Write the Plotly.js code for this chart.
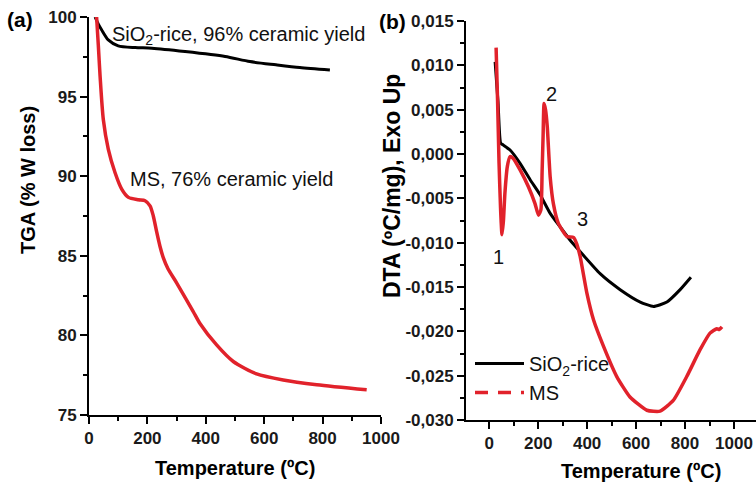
<!DOCTYPE html>
<html>
<head>
<meta charset="utf-8">
<script src="https://cdn.plot.ly/plotly-3.0.1.min.js"></script>
<style>html,body{margin:0;padding:0;background:#fff;}#chart{width:756px;height:484px;}</style>
</head>
<body>
<div id="chart"></div>
<script>
// ---- Data ----
// (a) TGA, SiO2-rice
var tgaSiT = [21, 32, 43, 66, 100, 158, 215, 329, 466, 551, 640, 722, 825];
var tgaSiV = [100, 99.55, 99.2, 98.56, 98.19, 98.08, 98.04, 97.83, 97.52, 97.2, 97.0, 96.83, 96.67];
// (a) TGA, MS
var tgaMsT = [26, 32, 38, 49, 66, 89, 112, 135, 169, 192, 209, 220, 232, 243, 255, 270, 300, 357, 380, 437, 494, 574, 665, 780, 951];
var tgaMsV = [100, 98.2, 96.27, 93.56, 91.7, 90.23, 89.19, 88.67, 88.52, 88.46, 88.14, 87.52, 86.48, 85.6, 84.85, 84.2, 83.3, 81.5, 80.75, 79.4, 78.36, 77.58, 77.2, 76.9, 76.58];
// (b) DTA, SiO2-rice
var dtaSiT = [24, 36, 47, 58, 85, 126, 167, 208, 249, 289, 330, 371, 453, 535, 617, 671, 726, 780, 824];
var dtaSiV = [0.0104, 0.0058, 0.0012, 0.0010, 0.00045, -0.00105, -0.0029, -0.0046, -0.0067, -0.0082, -0.0097, -0.0110, -0.0135, -0.0153, -0.0167, -0.0172, -0.0167, -0.0153, -0.0139];
// (b) DTA, MS
var dtaMsT = [28, 34, 40, 46, 52, 58, 64, 74, 85, 98, 126, 160, 187, 201, 211, 216, 220, 224, 230, 237, 249, 262, 282, 317, 344, 357, 371, 399, 426, 467, 521, 575, 644, 698, 752, 807, 861, 902, 930, 940, 951];
var dtaMsV = [0.0120, 0.006, -0.001, -0.006, -0.0091, -0.0075, -0.0044, -0.0014, -0.0003, -0.0005, -0.0018, -0.0037, -0.0056, -0.0069, -0.0063, -0.002, 0.002, 0.0057, 0.0050, 0.0031, -0.0026, -0.0056, -0.0078, -0.0093, -0.0094, -0.0101, -0.0115, -0.0157, -0.0187, -0.0217, -0.0251, -0.0274, -0.0289, -0.0290, -0.0278, -0.0251, -0.0221, -0.0202, -0.0197, -0.0198, -0.0195];

// Tick labels
var tempTicks = [0, 200, 400, 600, 800, 1000];
var tgaTicks = [75, 80, 85, 90, 95, 100];
var dtaTicks = [-0.030, -0.025, -0.020, -0.015, -0.010, -0.005, 0.000, 0.005, 0.010, 0.015];
var dtaTickLabels = ['-0,030', '-0,025', '-0,020', '-0,015', '-0,010', '-0,005', '0,000', '0,005', '0,010', '0,015'];

// Text
var seriesNames = ['SiO<sub>2</sub>-rice', 'MS'];
var tgaLabels = ['SiO<sub>2</sub>-rice, 96% ceramic yield', 'MS, 76% ceramic yield'];
var peakLabels = ['1', '2', '3'];
var peakT = [37, 253, 380];
var peakV = [-0.0116, 0.0068, -0.0073];

// ---- Styling ----
var W = 756, H = 484;
function px(x) { return x / W; }
function py(y) { return 1 - y / H; }
var RED = '#e1222b';
var FONT = 'Liberation Sans, Arial, sans-serif';
var tickFont = {family: FONT, size: 17, color: '#1a1a1a', weight: 700};

function axisBase() {
  return {
    showline: true, linecolor: '#000', linewidth: 2,
    ticks: 'outside', ticklen: 7, tickwidth: 2, tickcolor: '#000',
    showgrid: false, zeroline: false, tickfont: tickFont, fixedrange: true
  };
}

var xa = Object.assign(axisBase(), {
  domain: [px(89), px(381)], range: [0, 1000], anchor: 'y',
  tickmode: 'array', tickvals: tempTicks,
  minor: {dtick: 100, tick0: 0, ticklen: 4, tickwidth: 2, tickcolor: '#000', ticks: 'outside'}
});
var ya = Object.assign(axisBase(), {
  domain: [py(415), py(17)], range: [75, 100], anchor: 'x',
  tickmode: 'array', tickvals: tgaTicks,
  minor: {dtick: 2.5, tick0: 75, ticklen: 4, tickwidth: 2, tickcolor: '#000', ticks: 'outside'}
});
var xb = Object.assign(axisBase(), {
  domain: [px(466), 1], range: [-95, 1090], anchor: 'y2',
  tickmode: 'array', tickvals: tempTicks,
  minor: {dtick: 100, tick0: 0, ticklen: 4, tickwidth: 2, tickcolor: '#000', ticks: 'outside'}
});
var yb = Object.assign(axisBase(), {
  domain: [py(420), py(21)], range: [-0.030, 0.015], anchor: 'x2',
  tickmode: 'array', tickvals: dtaTicks, ticktext: dtaTickLabels,
  minor: {dtick: 0.0025, tick0: 0, ticklen: 4, tickwidth: 2, tickcolor: '#000', ticks: 'outside'}
});

var traces = [
  {x: tgaSiT, y: tgaSiV, xaxis: 'x', yaxis: 'y', mode: 'lines', showlegend: false,
   name: seriesNames[0], line: {color: '#000', width: 3, shape: 'spline', smoothing: 0.7}},
  {x: tgaMsT, y: tgaMsV, xaxis: 'x', yaxis: 'y', mode: 'lines', showlegend: false,
   name: seriesNames[1], line: {color: RED, width: 3.5, shape: 'spline', smoothing: 0.7}},
  {x: dtaSiT, y: dtaSiV, xaxis: 'x2', yaxis: 'y2', mode: 'lines', showlegend: true,
   name: seriesNames[0], line: {color: '#000', width: 3, shape: 'spline', smoothing: 0.5}},
  {x: dtaMsT, y: dtaMsV, xaxis: 'x2', yaxis: 'y2', mode: 'lines', showlegend: false,
   name: seriesNames[1], line: {color: RED, width: 3.5, shape: 'spline', smoothing: 0.5}},
  {x: [null], y: [null], xaxis: 'x2', yaxis: 'y2', mode: 'lines', showlegend: true,
   name: seriesNames[1], line: {color: RED, width: 3.5, dash: '13px,10px'}}
];

var titleFont = {family: FONT, size: 20, color: '#000', weight: 700};
var labelFont = {family: FONT, size: 20, color: '#111'};
function paperNote(text, x, y, font, extra) {
  return Object.assign({text: text, x: px(x), y: py(y), xref: 'paper', yref: 'paper',
    xanchor: 'center', yanchor: 'middle', showarrow: false, font: font}, extra || {});
}

var annotations = [
  paperNote('(a)', 20, 20, {family: FONT, size: 21, weight: 700, color: '#000'}),
  paperNote('(b)', 392, 22, {family: FONT, size: 21, weight: 700, color: '#000'}),
  paperNote('Temperature (ºC)', 235, 468, titleFont),
  paperNote('Temperature (ºC)', 641, 471, titleFont),
  paperNote('TGA (% W loss)', 28, 180, titleFont, {textangle: -90}),
  paperNote('DTA (ºC/mg), Exo Up', 392, 186, {family: FONT, size: 23, color: '#000', weight: 700}, {textangle: -90}),
  paperNote(tgaLabels[0], 110, 35, labelFont, {xanchor: 'left'}),
  paperNote(tgaLabels[1], 128, 179, labelFont, {xanchor: 'left'})
];
for (var i = 0; i < peakLabels.length; i++) {
  annotations.push({text: peakLabels[i], x: peakT[i], y: peakV[i], xref: 'x2', yref: 'y2',
    xanchor: 'center', yanchor: 'middle', showarrow: false, font: labelFont});
}

var layout = {
  width: W, height: H,
  margin: {l: 0, r: 0, t: 0, b: 0},
  paper_bgcolor: '#fff', plot_bgcolor: 'rgba(0,0,0,0)',
  xaxis: xa, yaxis: ya, xaxis2: xb, yaxis2: yb,
  showlegend: true,
  legend: {x: px(470), y: py(344), xanchor: 'left', yanchor: 'top', bgcolor: 'rgba(0,0,0,0)',
           font: {family: FONT, size: 20, color: '#111'}, itemwidth: 49, tracegroupgap: 0},
  annotations: annotations
};

Plotly.newPlot('chart', traces, layout, {displayModeBar: false, staticPlot: true});
</script>
</body>
</html>
